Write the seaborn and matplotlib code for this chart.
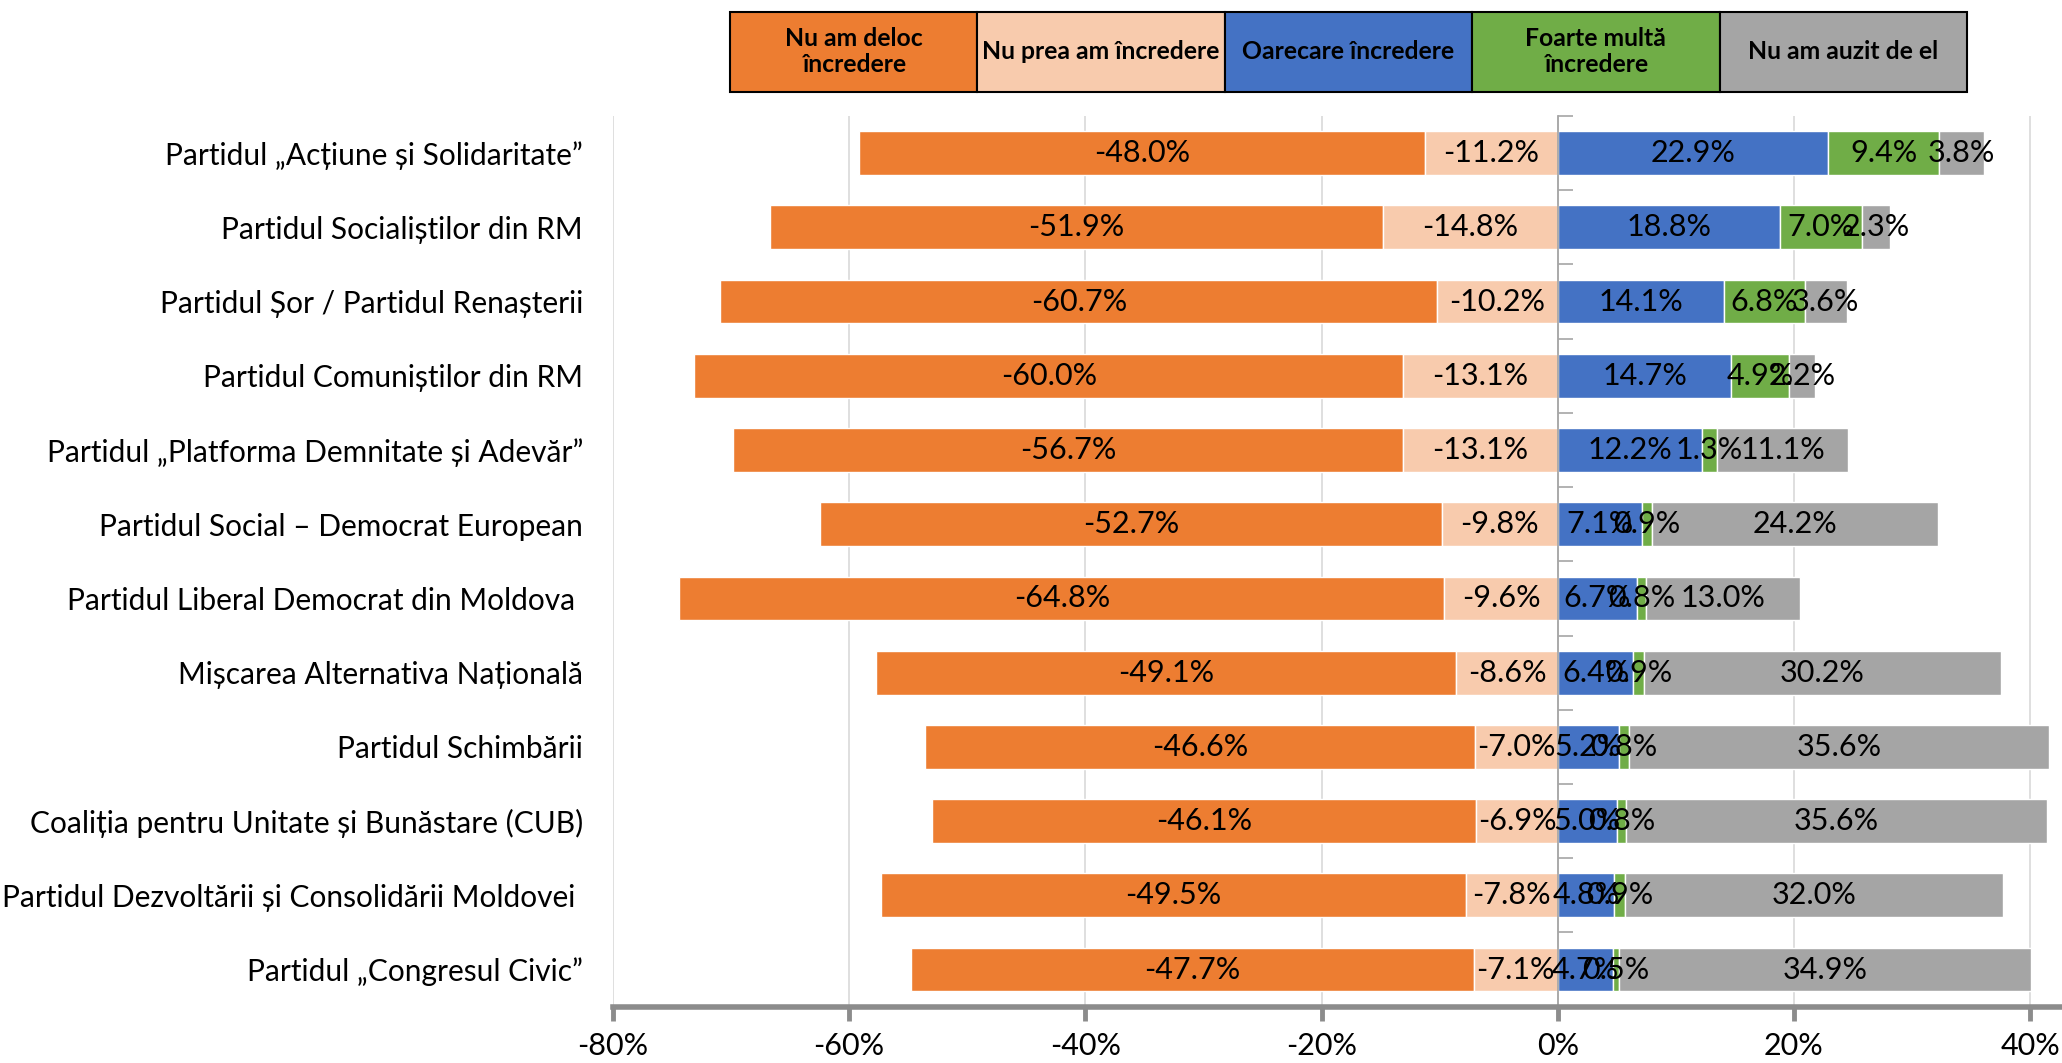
import numpy as np
import pandas as pd
import matplotlib.pyplot as plt
from matplotlib.patches import Rectangle
from matplotlib.ticker import FuncFormatter, FixedLocator
import seaborn as sns

sns.set_theme(style='white')
plt.rcParams['font.family'] = ['Lato', 'DejaVu Sans']

# Data (percent)
parties = [
    'Partidul „Acțiune și Solidaritate”',
    'Partidul Socialiștilor din RM',
    'Partidul Șor / Partidul Renașterii',
    'Partidul Comuniștilor din RM',
    'Partidul „Platforma Demnitate și Adevăr”',
    'Partidul Social – Democrat European',
    'Partidul Liberal Democrat din Moldova ',
    'Mișcarea Alternativa Națională',
    'Partidul Schimbării',
    'Coaliția pentru Unitate și Bunăstare (CUB)',
    'Partidul Dezvoltării și Consolidării Moldovei ',
    'Partidul „Congresul Civic”',
]
deloc = [48.0, 51.9, 60.7, 60.0, 56.7, 52.7, 64.8, 49.1, 46.6, 46.1, 49.5, 47.7]
prea = [11.2, 14.8, 10.2, 13.1, 13.1, 9.8, 9.6, 8.6, 7.0, 6.9, 7.8, 7.1]
oarecare = [22.9, 18.8, 14.1, 14.7, 12.2, 7.1, 6.7, 6.4, 5.2, 5.0, 4.8, 4.7]
foarte = [9.4, 7.0, 6.8, 4.9, 1.3, 0.9, 0.8, 0.9, 0.8, 0.8, 0.9, 0.5]
auzit = [3.8, 2.3, 3.6, 2.2, 11.1, 24.2, 13.0, 30.2, 35.6, 35.6, 32.0, 34.9]

legend_labels = ['Nu am deloc\nîncredere', 'Nu prea am încredere', 'Oarecare încredere',
                 'Foarte multă\nîncredere', 'Nu am auzit de el']
palette = ['#ED7D31', '#F8CBAD', '#4472C4', '#70AD47', '#A5A5A5']
xticks = [-80, -60, -40, -20, 0, 20, 40]

df = pd.DataFrame({'party': parties, 'deloc': deloc, 'prea': prea,
                   'oarecare': oarecare, 'foarte': foarte, 'auzit': auzit})
df['neg_deloc'] = -df['deloc']
df['neg_prea'] = -df['prea']

# segments: (value column, left offsets)
layers = [
    ('neg_deloc', -df['prea'].to_numpy()),
    ('neg_prea', np.zeros(len(df))),
    ('oarecare', np.zeros(len(df))),
    ('foarte', df['oarecare'].to_numpy()),
    ('auzit', (df['oarecare'] + df['foarte']).to_numpy()),
]

W, H = 2062, 1063
fig = plt.figure(figsize=(W / 100, H / 100), dpi=100)
ax = fig.add_axes([613 / W, (H - 1006.7) / H, (W - 613) / W, (1006.7 - 116) / H])

for (col, left), color in zip(layers, palette):
    sns.barplot(data=df, x=col, y='party', orient='y', left=left, color=color,
                saturation=1, width=0.59, errorbar=None, ax=ax)
    ax.bar_label(ax.containers[-1], fmt='{:.1f}%', label_type='center',
                 fontsize=22, color='black')

ax.set_xlabel('')
ax.set_ylabel('')
ax.set_xlim(-80, 42.7)
ax.set_ylim(len(df) - 0.5, -0.5)

# x axis
ax.xaxis.set_major_locator(FixedLocator(xticks))
ax.xaxis.set_major_formatter(FuncFormatter(lambda v, p: f'{v:.0f}%'))
ax.tick_params(axis='x', bottom=True, direction='out', length=10, width=3.5,
               color='#8c8c8c', labelsize=22, pad=8, labelcolor='black')
ax.xaxis.grid(True, color='#d9d9d9', lw=1.2)
ax.yaxis.grid(False)
ax.set_axisbelow(True)

# y axis: labels at far left, axis line at 0 with boundary ticks
ax.tick_params(axis='y', which='major', left=False, right=False, length=0,
               labelleft=True, labelsize=21.5, pad=21.6, labelcolor='black')
ax.yaxis.set_minor_locator(FixedLocator(np.arange(-0.5, len(df), 1)))
ax.tick_params(axis='y', which='minor', left=False, right=True, direction='out',
               length=11, width=1.2, color='#a6a6a6')

ax.spines['left'].set_visible(False)
ax.spines['top'].set_visible(False)
ax.spines['right'].set_position(('data', 0))
ax.spines['right'].set_color('#a6a6a6')
ax.spines['right'].set_linewidth(1.3)
ax.spines['bottom'].set_color('#8c8c8c')
ax.spines['bottom'].set_linewidth(4)

# legend as a row of boxes
lax = fig.add_axes([730 / W, (H - 91.7) / H, 1237 / W, 80 / H])
lax.set_xlim(0, 5)
lax.set_ylim(0, 1)
lax.axis('off')
for i, (lab, color) in enumerate(zip(legend_labels, palette)):
    lax.add_patch(Rectangle((i, 0), 1, 1, facecolor=color, edgecolor='black',
                            lw=1.5, clip_on=False))
    lax.text(i + 0.5, 0.5, lab, ha='center', va='center', fontsize=17.8,
             fontweight='bold', color='black', linespacing=1.15)

fig.savefig('out.png', dpi=100)
